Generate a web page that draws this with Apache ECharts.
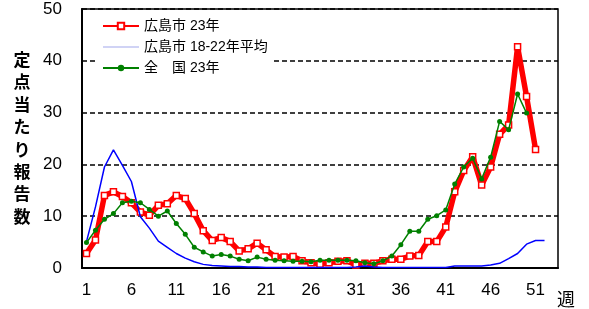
<!DOCTYPE html>
<html>
<head>
<meta charset="utf-8">
<script src="https://cdn.jsdelivr.net/npm/echarts@6/dist/echarts.min.js"></script>
<style>
  html, body { margin: 0; padding: 0; background: #fff; }
  #chart { width: 589px; height: 309px; }
</style>
</head>
<body>
<div id="chart"></div>
<script>
// 週（カテゴリ）
const weeks = ['1','2','3','4','5','6','7','8','9','10','11','12','13','14','15','16','17','18','19','20',
  '21','22','23','24','25','26','27','28','29','30','31','32','33','34','35','36','37','38','39','40',
  '41','42','43','44','45','46','47','48','49','50','51','52','53'];

// 広島市 23年
const hiroshima23 = [2.8, 5.4, 14.0, 14.7, 13.8, 12.6, 10.8, 10.2, 12.1, 12.4,
  14.0, 13.4, 10.5, 7.2, 5.3, 5.9, 5.1, 3.3, 3.7, 4.8,
  3.5, 2.2, 2.1, 2.2, 1.4, 1.0, 0.7, 1.0, 1.3, 1.4,
  0.6, 0.9, 0.9, 1.4, 1.7, 1.7, 2.3, 2.4, 5.1, 5.1,
  7.9, 14.7, 18.8, 21.5, 16.0, 19.5, 25.8, 27.6, 42.7, 33.1, 22.9];

// 広島市 18-22年平均
const hiroshimaAvg = [5.1, 11.8, 19.5, 22.8, 19.8, 16.7, 9.9, 7.7, 5.2, 4.0,
  2.8, 1.9, 1.2, 0.7, 0.5, 0.4, 0.3, 0.3, 0.2, 0.2,
  0.1, 0.1, 0.1, 0.1, 0.1, 0.1, 0.1, 0.1, 0.1, 0.1,
  0.2, 0.4, 0.2, 0.1, 0.1, 0.1, 0.1, 0.1, 0.1, 0.1,
  0.1, 0.4, 0.4, 0.4, 0.4, 0.6, 0.9, 1.8, 2.8, 4.6, 5.3, 5.3];

// 全国 23年
const zenkoku23 = [4.9, 7.3, 9.4, 10.5, 12.6, 12.9, 12.6, 11.3, 10.0, 11.0,
  8.6, 6.5, 4.0, 3.1, 2.3, 2.6, 2.3, 1.7, 1.4, 2.1,
  1.7, 1.5, 1.4, 1.3, 1.3, 1.2, 1.5, 1.5, 1.5, 1.5,
  1.4, 1.0, 0.8, 1.4, 2.3, 4.5, 7.1, 7.1, 9.4, 10.1,
  11.2, 16.2, 19.5, 21.2, 17.2, 21.4, 28.3, 26.7, 33.6, 29.9];

const numFont = '"Liberation Sans", Arial, sans-serif';
const jpFont = '"Noto Sans CJK JP", sans-serif';
const mixFont = '"Liberation Sans", "Noto Sans CJK JP", sans-serif';

const chart = echarts.init(document.getElementById('chart'));

chart.setOption({
  animation: false,
  grid: {
    left: 82, top: 9, right: 31, bottom: 41,
    show: true, borderColor: '#000', borderWidth: 1.5
  },
  legend: {
    orient: 'vertical',
    left: 96, top: 12,
    padding: [7, 6, 5, 6],
    backgroundColor: '#fff',
    itemWidth: 36, itemHeight: 8, itemGap: 7,
    textStyle: { fontSize: 14, color: '#000', fontFamily: mixFont },
    data: [
      { name: '広島市 23年' },
      { name: '広島市 18-22年平均', lineStyle: { color: '#c0c4f2', width: 1.5 }, itemStyle: { opacity: 0 } },
      { name: '全　国 23年' }
    ]
  },
  xAxis: {
    type: 'category',
    data: weeks,
    boundaryGap: true,
    axisLine: { lineStyle: { color: '#000', width: 2 } },
    axisTick: { interval: 4, length: 4, lineStyle: { color: '#000', width: 1.5 } },
    axisLabel: { interval: 4, fontSize: 17, color: '#000', margin: 14, fontFamily: numFont },
    splitLine: { show: false }
  },
  yAxis: {
    type: 'value',
    min: 0, max: 50, interval: 10,
    axisLine: { show: true, lineStyle: { color: '#000', width: 2 } },
    axisTick: { show: false },
    axisLabel: { fontSize: 17, color: '#000', margin: 20, fontFamily: numFont },
    splitLine: { lineStyle: { color: '#000', type: [5, 3], width: 1.5 } }
  },
  graphic: [
    {
      type: 'text', x: 22, y: 138,
      style: {
        text: '定\n点\n当\nた\nり\n報\n告\n数',
        fontSize: 17, fontWeight: 'bold', lineHeight: 22.4, fontFamily: jpFont,
        fill: '#000', align: 'center', verticalAlign: 'middle'
      }
    },
    {
      type: 'text', x: 566, y: 299,
      style: {
        text: '週', fontSize: 18, fontFamily: jpFont,
        fill: '#000', align: 'center', verticalAlign: 'middle'
      }
    }
  ],
  series: [
    {
      name: '広島市 23年',
      type: 'line',
      data: hiroshima23,
      z: 2,
      symbol: 'rect', symbolSize: 6, showAllSymbol: true,
      lineStyle: { color: '#ff0000', width: 5.5 },
      itemStyle: { color: '#fff', borderColor: '#ff0000', borderWidth: 1.5 }
    },
    {
      name: '広島市 18-22年平均',
      type: 'line',
      data: hiroshimaAvg,
      z: 3,
      symbol: 'circle', showSymbol: false,
      lineStyle: { color: '#0000ff', width: 1.5 },
      itemStyle: { color: '#0000ff' }
    },
    {
      name: '全　国 23年',
      type: 'line',
      data: zenkoku23,
      z: 4,
      symbol: 'circle', symbolSize: 5, showAllSymbol: true,
      lineStyle: { color: '#008000', width: 1.5 },
      itemStyle: { color: '#008000' }
    }
  ]
});
</script>
</body>
</html>
